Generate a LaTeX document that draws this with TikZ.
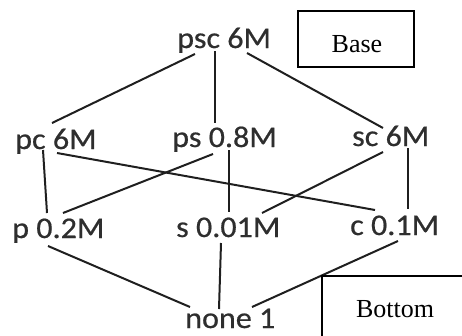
\documentclass[tikz,border=0pt]{standalone}
\usepackage{fontspec}
\setmainfont{Liberation Serif}
\newfontfamily\lblfont[FakeBold=0.6,FakeStretch=1.07]{Carlito}
\begin{document}
\begin{tikzpicture}[x=1pt,y=-1pt,
  lbl/.style={anchor=base west,inner sep=0pt,text=black!82,font=\lblfont\fontsize{30}{36}\selectfont},
  conn/.style={line width=2pt,black!88},
  boxline/.style={line width=1.6pt},
  boxtxt/.style={anchor=base,inner sep=0pt,font=\fontsize{26}{30}\selectfont}]
\useasboundingbox (0,0) rectangle (462,335);
\clip (0,0) rectangle (462,335);
% labels
\node[lbl] (psc) at (177,48) {psc 6M};
\node[lbl] (pc) at (15,149) {pc 6M};
\node[lbl] (ps) at (172,147) {ps 0.8M};
\node[lbl] (sc) at (352,146) {sc 6M};
\node[lbl] (p) at (12,238) {p 0.2M};
\node[lbl] (s) at (176,237) {s 0.01M};
\node[lbl] (c) at (350,235) {c 0.1M};
\node[lbl] (none) at (185,328) {none 1};
% connectors
\draw[conn] ([shift={(18,6)}]psc.base west) -- ([shift={(37,-26)}]pc.base west);
\draw[conn] ([shift={(38,3)}]psc.base west) -- ([shift={(43,-24)}]ps.base west);
\draw[conn] ([shift={(70,5)}]psc.base west) -- ([shift={(31,-18)}]sc.base west);
\draw[conn] ([shift={(28,1)}]pc.base west) -- ([shift={(35,-25)}]p.base west);
\draw[conn] ([shift={(42,4)}]pc.base west) -- ([shift={(25,-25)}]c.base west);
\draw[conn] ([shift={(41,7)}]ps.base west) -- ([shift={(51,-25)}]p.base west);
\draw[conn] ([shift={(57,3)}]ps.base west) -- ([shift={(53,-25)}]s.base west);
\draw[conn] ([shift={(31,6)}]sc.base west) -- ([shift={(86,-24)}]s.base west);
\draw[conn] ([shift={(56,2)}]sc.base west) -- ([shift={(58,-26)}]c.base west);
\draw[conn] ([shift={(36,8)}]p.base west) -- ([shift={(5,-21)}]none.base west);
\draw[conn] ([shift={(45,6)}]s.base west) -- ([shift={(34,-19)}]none.base west);
\draw[conn] ([shift={(48,6)}]c.base west) -- ([shift={(67,-21)}]none.base west);
% boxes
\draw[boxline] (298,11) rectangle (414,67);
\node[boxtxt] (base) at (357,52) {Base};
\draw[boxline] (322,345) |- (475,276);
\node[boxtxt] (bottom) at (395,317) {Bottom};
\end{tikzpicture}
\end{document}
